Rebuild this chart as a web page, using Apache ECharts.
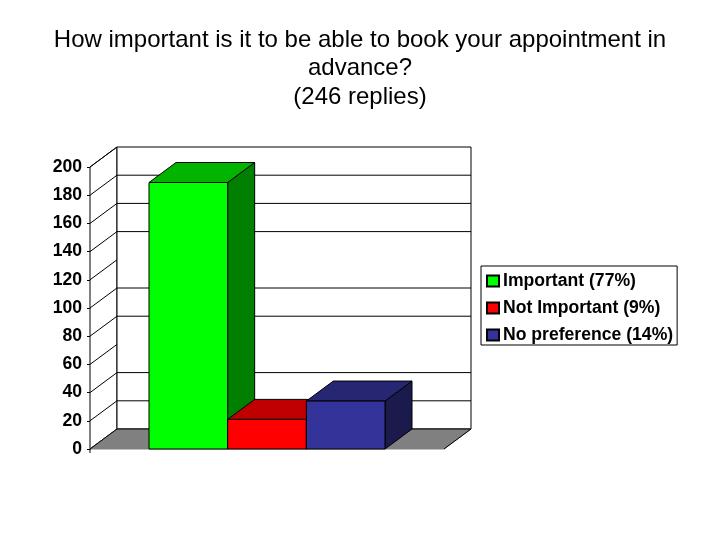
<!DOCTYPE html>
<html>
<head>
<meta charset="utf-8">
<style>html,body{margin:0;padding:0;background:#fff}#c{width:720px;height:540px}</style>
<script src="https://cdn.jsdelivr.net/npm/echarts@6/dist/echarts.min.js"></script>
</head>
<body>
<div id="c"></div>
<script>
const titleLines = ['How important is it to be able to book your appointment in', 'advance?', '(246 replies)'];
const seriesNames = ['Important (77%)', 'Not Important (9%)', 'No preference (14%)'];
const seriesValues = [189, 21, 34];
const frontColors = ['#00ff00', '#ff0000', '#333399'];
const topColors = ['#00b400', '#c00000', '#262673'];
const sideColors = ['#007f00', '#7f0000', '#1a1a4d'];
const tickValues = [0, 20, 40, 60, 80, 100, 120, 140, 160, 180, 200];
const wallGridValues = [20, 40, 80, 100, 140, 160, 180];

const DX = 27, DY = -20;
const ink = { stroke: '#000', lineWidth: 1, fill: null };
const chart = echarts.init(document.getElementById('c'), null, { renderer: 'canvas' });

function poly(points, fill, stroke) {
  return { type: 'polygon', shape: { points }, style: { fill, stroke: stroke || '#000', lineWidth: 1 } };
}
function seg(x1, y1, x2, y2) {
  return { type: 'line', shape: { x1, y1, x2, y2 }, style: ink };
}

function renderWalls(params, api) {
  const band = api.size([1, 0])[0];
  const c = api.coord([0, 0]);
  const x0 = c[0] - band / 2, x1 = c[0] + band / 2, y0 = c[1];
  const yTop = api.coord([0, 200])[1];
  const children = [
    poly([[x0, y0], [x0 + DX, y0 + DY], [x0 + DX, yTop + DY], [x0, yTop]], '#fff'),
    poly([[x0 + DX, y0 + DY], [x1 + DX, y0 + DY], [x1 + DX, yTop + DY], [x0 + DX, yTop + DY]], '#fff'),
    poly([[x0, y0], [x0 + DX, y0 + DY], [x1 + DX, y0 + DY], [x1, y0]], '#808080', '#808080'),
    seg(x0 + DX, y0 + DY, x1 + DX, y0 + DY),
    seg(x1, y0, x1 + DX, y0 + DY),
    seg(x0, y0, x0 + DX, y0 + DY),
    seg(x0, y0, x0, y0 + 4)
  ];
  tickValues.forEach(v => {
    const y = api.coord([0, v])[1];
    if (v > 0) children.push(seg(x0, y, x0 + DX, y + DY));
  });
  wallGridValues.forEach(v => {
    const y = api.coord([0, v])[1] + DY;
    children.push(seg(x0 + DX, y, x1 + DX, y));
  });
  return { type: 'group', children };
}

function renderBar(i) {
  return function (params, api) {
    const band = api.size([1, 0])[0];
    const w = band / 4.5;
    const c = api.coord([0, 0]);
    const l = c[0] - 1.5 * w + i * w, r = l + w, b = c[1];
    const t = api.coord([0, api.value(1)])[1];
    return {
      type: 'group',
      children: [
        poly([[r, b], [r + DX, b + DY], [r + DX, t + DY], [r, t]], sideColors[i]),
        poly([[l, t], [r, t], [r + DX, t + DY], [l + DX, t + DY]], topColors[i]),
        poly([[l, b], [r, b], [r, t], [l, t]], frontColors[i])
      ]
    };
  };
}

chart.setOption({
  animation: false,
  backgroundColor: '#fff',
  textStyle: { fontFamily: 'Liberation Sans' },
  title: {
    text: titleLines.join('\n'),
    left: 355, top: 21, textAlign: 'center',
    textStyle: { fontFamily: 'Liberation Sans', fontSize: 24, fontWeight: 'normal', color: '#000', lineHeight: 28.5 }
  },
  legend: {
    data: seriesNames,
    orient: 'vertical', left: 481, top: 266,
    backgroundColor: '#fff', borderColor: '#000', borderWidth: 1,
    padding: [6, 4, 1, 5], itemGap: 9, itemWidth: 12, itemHeight: 11, icon: 'rect',
    textStyle: { fontFamily: 'Liberation Sans', fontSize: 17.6, fontWeight: 'bold', color: '#000', padding: [0, 0, 0, -1], height: 18, lineHeight: 18 }
  },
  grid: { left: 90, top: 167, width: 354, height: 282 },
  xAxis: {
    type: 'category', data: [''],
    axisLine: { show: false }, axisTick: { show: false }, axisLabel: { show: false }
  },
  yAxis: {
    type: 'value', min: 0, max: 200, interval: 20,
    axisLine: { show: true, lineStyle: { color: '#000' } },
    axisTick: { show: true, length: 3, lineStyle: { color: '#000' } },
    axisLabel: { color: '#000', fontFamily: 'Liberation Sans', fontWeight: 'bold', fontSize: 17.6, margin: 8 },
    splitLine: { show: false }
  },
  series: [
    { type: 'custom', name: 'walls', renderItem: renderWalls, data: [[0, 0]], z: 1, silent: true }
  ].concat(seriesNames.map((name, i) => ({
    type: 'custom', name, renderItem: renderBar(i), data: [[0, seriesValues[i]]],
    itemStyle: { color: frontColors[i], borderColor: '#000', borderWidth: 1 },
    encode: { x: 0, y: 1 }, z: 2 + i
  })))
});
</script>
</body>
</html>
